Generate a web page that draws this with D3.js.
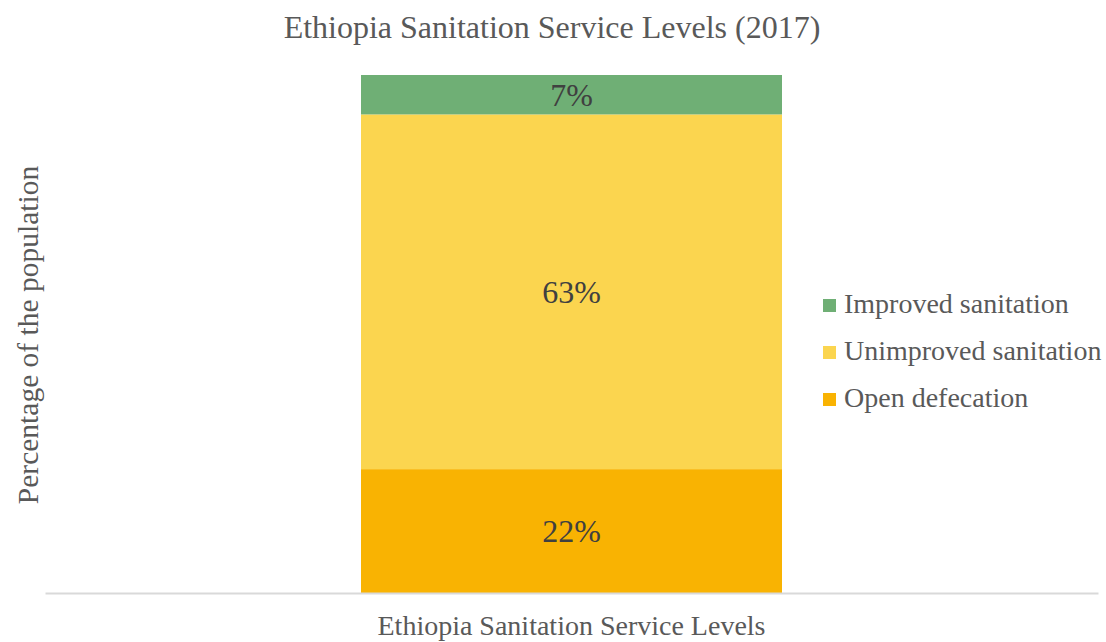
<!DOCTYPE html>
<html>
<head>
<meta charset="utf-8">
<script src="https://cdn.jsdelivr.net/npm/d3@7"></script>
<style>
  html, body { margin: 0; padding: 0; background: #ffffff; }
  svg { display: block; font-family: "Liberation Serif", "Times New Roman", serif; }
</style>
</head>
<body>
<svg id="chart" width="1106" height="642"></svg>
<script>
// Sanitation service levels, percentage of the population (2017)
const categories = ["Ethiopia Sanitation Service Levels"];
const seriesNames = ["Open defecation", "Unimproved sanitation", "Improved sanitation"];
const seriesValues = [22, 63, 7];
const seriesColors = ["#f9b302", "#fbd54f", "#6faf75"];
const legendOrder = ["Improved sanitation", "Unimproved sanitation", "Open defecation"];

const svg = d3.select("#chart");

const plot = { left: 45, right: 1098, top: 75, bottom: 593 };

const total = d3.sum(seriesValues);
const y = d3.scaleLinear().domain([0, total]).range([plot.bottom, plot.top]);
const x = d3.scaleBand().domain(categories).range([plot.left, plot.right]);

// The bar sits in a fixed band inside the category slot
const barBand = d3.scaleBand().domain(categories).range([361, 782]);
const barMid = barBand(categories[0]) + barBand.bandwidth() / 2;

// Stack the series
const stackRow = {};
seriesNames.forEach((n, i) => stackRow[n] = seriesValues[i]);
const stacked = d3.stack().keys(seriesNames)([stackRow]);
const color = d3.scaleOrdinal().domain(seriesNames).range(seriesColors);

// Title
svg.append("text")
  .attr("x", 552).attr("y", 38)
  .attr("text-anchor", "middle")
  .attr("fill", "#595959")
  .style("font-size", "32px")
  .text("Ethiopia Sanitation Service Levels (2017)");

// Segments
const layers = svg.append("g").selectAll("g").data(stacked).join("g")
  .attr("fill", d => color(d.key));

layers.selectAll("rect").data(d => d).join("rect")
  .attr("x", barBand(categories[0]))
  .attr("width", barBand.bandwidth())
  .attr("y", d => y(d[1]))
  .attr("height", d => y(d[0]) - y(d[1]));

// Value labels
svg.append("g").selectAll("text").data(stacked).join("text")
  .attr("x", barMid)
  .attr("y", d => (y(d[0][0]) + y(d[0][1])) / 2 + 11)
  .attr("text-anchor", "middle")
  .attr("fill", "#404040")
  .style("font-size", "32px")
  .text(d => d[0].data[d.key] + "%");

// Category axis
const xAxis = d3.axisBottom(x).tickSize(0).tickPadding(0);
const gx = svg.append("g").attr("transform", `translate(0,${plot.bottom})`).call(xAxis);
gx.select(".domain").attr("stroke", "#d9d9d9").attr("stroke-width", 2);
gx.selectAll(".tick").attr("transform", `translate(${barMid},0)`);
gx.selectAll("text")
  .attr("dy", 0)
  .attr("y", 42)
  .attr("fill", "#595959")
  .style("font-size", "28px")
  .style("font-family", "\"Liberation Serif\", \"Times New Roman\", serif");

// Y axis title
svg.append("text")
  .attr("transform", "translate(38,335) rotate(-90)")
  .attr("text-anchor", "middle")
  .attr("fill", "#595959")
  .style("font-size", "29.5px")
  .text("Percentage of the population");

// Legend
const legend = svg.append("g").selectAll("g").data(legendOrder).join("g")
  .attr("transform", (d, i) => `translate(823,${313 + i * 47})`);
legend.append("rect")
  .attr("x", 0).attr("y", -14)
  .attr("width", 13).attr("height", 13)
  .attr("fill", d => color(d));
legend.append("text")
  .attr("x", 21).attr("y", 0)
  .attr("fill", "#595959")
  .style("font-size", "28px")
  .text(d => d);
</script>
</body>
</html>
